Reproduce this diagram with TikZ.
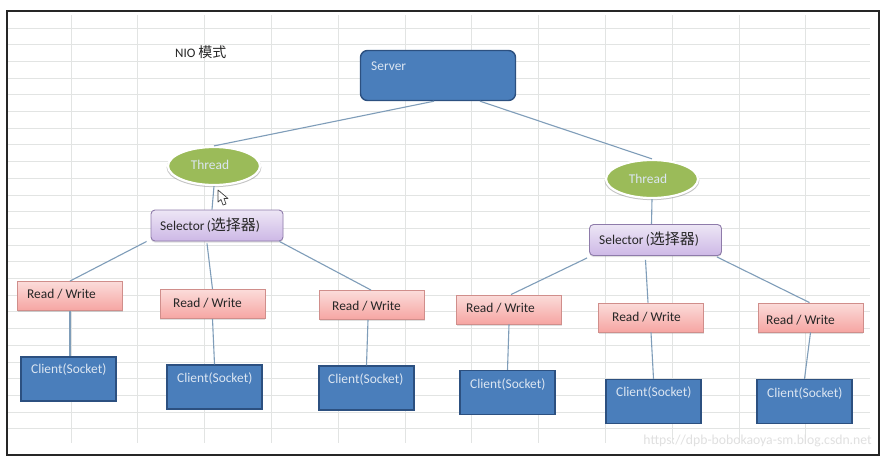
\documentclass[tikz,border=0pt]{standalone}
\usepackage{fontspec}
\setmainfont{Carlito}
\newfontfamily\cjk{Noto Sans CJK SC}
\usetikzlibrary{shapes.geometric, shadows}
\definecolor{gridgray}{HTML}{E2E4E3}
\definecolor{linkblue}{HTML}{7F9DB9}
\definecolor{serverblue}{HTML}{4A7EBB}
\definecolor{serveredge}{HTML}{2C5080}
\definecolor{threadgreen}{HTML}{9BBB59}
\definecolor{selectortop}{HTML}{EDE6F5}
\definecolor{selectorbottom}{HTML}{CDB8E6}
\definecolor{selectoredge}{HTML}{8E7BAA}
\definecolor{rwtop}{HTML}{FBDCDA}
\definecolor{rwbottom}{HTML}{F6A5A2}
\definecolor{rwedge}{HTML}{D08E8B}
\definecolor{paletext}{HTML}{DCE6F2}
\tikzset{
	link/.style={draw=linkblue, line width=1.1pt},
	serverbox/.style={draw=serveredge, line width=1.4pt, fill=serverblue, rounded corners=7pt, minimum width=155pt, minimum height=50pt},
	threadbox/.style={ellipse, draw=white, line width=2.2pt, fill=threadgreen, minimum width=92pt, minimum height=38pt, inner sep=0pt, drop shadow={opacity=0.45, shadow xshift=0pt, shadow yshift=-1.5pt, shadow scale=1.03}},
	selectorbox/.style={draw=selectoredge, line width=0.9pt, top color=selectortop, bottom color=selectorbottom, rounded corners=4pt, minimum width=132pt, minimum height=31pt, drop shadow={opacity=0.25, shadow xshift=0pt, shadow yshift=-1.5pt}},
	rwbox/.style={draw=rwedge, line width=0.9pt, top color=rwtop, bottom color=rwbottom, minimum width=105pt, minimum height=29pt, drop shadow={opacity=0.25, shadow xshift=0pt, shadow yshift=-1.5pt}},
	clientbox/.style={draw=serveredge, line width=1.5pt, fill=serverblue, minimum width=95pt, minimum height=44pt},
	whitetext/.style={text=paletext, font=\fontsize{13.4}{15}\selectfont, inner sep=0pt, anchor=west},
	darktext/.style={text=black!85, font=\fontsize{13.4}{15}\selectfont, inner sep=0pt, anchor=west},
}
\begin{document}
\begin{tikzpicture}[x=1pt, y=-1pt]
	\useasboundingbox (0,0) rectangle (893,467);
	\fill[white] (0,0) rectangle (893,467);

	%spreadsheet grid
	\foreach \gy in {28,44.7,...,430}
		\draw[gridgray, line width=1pt] (8,\gy) -- (870,\gy);
	\foreach \gx in {71,137.8,...,810}
		\draw[gridgray, line width=1pt] (\gx,15) -- (\gx,443);

	%outer frame
	\draw[black!85, line width=1.3pt] (7,11) rectangle (879,455);

	\node[darktext, font=\fontsize{13}{15}\selectfont] (title) at (175,52.5) {NIO {\cjk\fontsize{14}{15}\selectfont 模式}};

	%server and threads
	\node[serverbox] (server) at (438,75.5) {};
	\node[whitetext] (servertext) at (371,66.5) {Server};
	\node[threadbox] (threadL) at (214,166) {};
	\node[whitetext, anchor=center] (threadLtext) at (210,164.5) {Thread};
	\node[threadbox] (threadR) at (652,179) {};
	\node[whitetext, anchor=center] (threadRtext) at (648,178.5) {Thread};

	%selectors
	\node[selectorbox] (selectorL) at (217,225.5) {};
	\node[darktext] (selectorLtext) at (160,225) {Selector\,({\cjk\fontsize{15}{15}\selectfont 选择器})};
	\node[selectorbox] (selectorR) at (655.5,240) {};
	\node[darktext] (selectorRtext) at (599,239) {Selector\,({\cjk\fontsize{15}{15}\selectfont 选择器})};

	%read / write boxes
	\node[rwbox] (rwA) at (70,296) {};
	\node[darktext] (rwAtext) at (27,294.5) {Read / Write};
	\node[rwbox] (rwB) at (212.5,304) {};
	\node[darktext] (rwBtext) at (173,303.5) {Read / Write};
	\node[rwbox] (rwC) at (372,305) {};
	\node[darktext] (rwCtext) at (332,306.5) {Read / Write};
	\node[rwbox] (rwD) at (509,309.5) {};
	\node[darktext] (rwDtext) at (466,308.5) {Read / Write};
	\node[rwbox] (rwE) at (651,317.5) {};
	\node[darktext] (rwEtext) at (612,317.5) {Read / Write};
	\node[rwbox] (rwF) at (810.5,317.5) {};
	\node[darktext] (rwFtext) at (766,320.5) {Read / Write};

	%client boxes
	\node[clientbox] (clientA) at (68.5,379) {};
	\node[whitetext] (clientAtext) at (31,369.5) {Client(Socket)};
	\node[clientbox] (clientB) at (214.5,387) {};
	\node[whitetext] (clientBtext) at (177,378.5) {Client(Socket)};
	\node[clientbox] (clientC) at (366.5,388) {};
	\node[whitetext] (clientCtext) at (328,379.5) {Client(Socket)};
	\node[clientbox] (clientD) at (507.5,392.5) {};
	\node[whitetext] (clientDtext) at (470,384.5) {Client(Socket)};
	\node[clientbox] (clientE) at (653.5,401.5) {};
	\node[whitetext] (clientEtext) at (616,392.5) {Client(Socket)};
	\node[clientbox] (clientF) at (804.5,401.5) {};
	\node[whitetext] (clientFtext) at (767,393.5) {Client(Socket)};

	%links
	\draw[link] ([xshift=-4pt]server.south) -- (threadL.north);
	\draw[link] ([xshift=42pt]server.south) -- (threadR.north);
	\draw[link] (threadL.south) -- ([xshift=-5pt]selectorL.north);
	\draw[link] (threadR.south) -- ([xshift=-4pt]selectorR.north);
	\draw[link] ([xshift=-4pt]selectorL.south west) -- (rwA.north);
	\draw[link] ([xshift=-10pt,yshift=-2pt]selectorL.south) -- (rwB.north);
	\draw[link] ([xshift=-4pt]selectorL.south east) -- ([xshift=-1pt]rwC.north);
	\draw[link] ([xshift=-2pt,yshift=-2pt]selectorR.south west) -- ([xshift=2pt]rwD.north);
	\draw[link] ([xshift=-10pt,yshift=-4pt]selectorR.south) -- ([xshift=-3pt]rwE.north);
	\draw[link] ([xshift=-5pt,yshift=-1pt]selectorR.south east) -- ([xshift=-1pt]rwF.north);
	\draw[link] (rwA.south) -- ([xshift=1.5pt]clientA.north);
	\draw[link] (rwB.south) -- (clientB.north);
	\draw[link] ([xshift=-4pt]rwC.south) -- (clientC.north);
	\draw[link] (rwD.south) -- (clientD.north);
	\draw[link] (rwE.south) -- (clientE.north);
	\draw[link] (rwF.south) -- (clientF.north);

	%mouse pointer
	\draw[black!75, fill=white, line width=0.7pt, line join=round] (218,190) -- (218,202) -- (221,199.5) -- (223,205) -- (226,204) -- (224,198.5) -- (228,198.5) -- cycle;

	%watermark
	\node[text=black!12, font=\fontsize{13.7}{15}\selectfont, inner sep=0pt, anchor=east] (mark) at (872,441) {https://dpb-bobokaoya-sm.blog.csdn.net};
\end{tikzpicture}
\end{document}
